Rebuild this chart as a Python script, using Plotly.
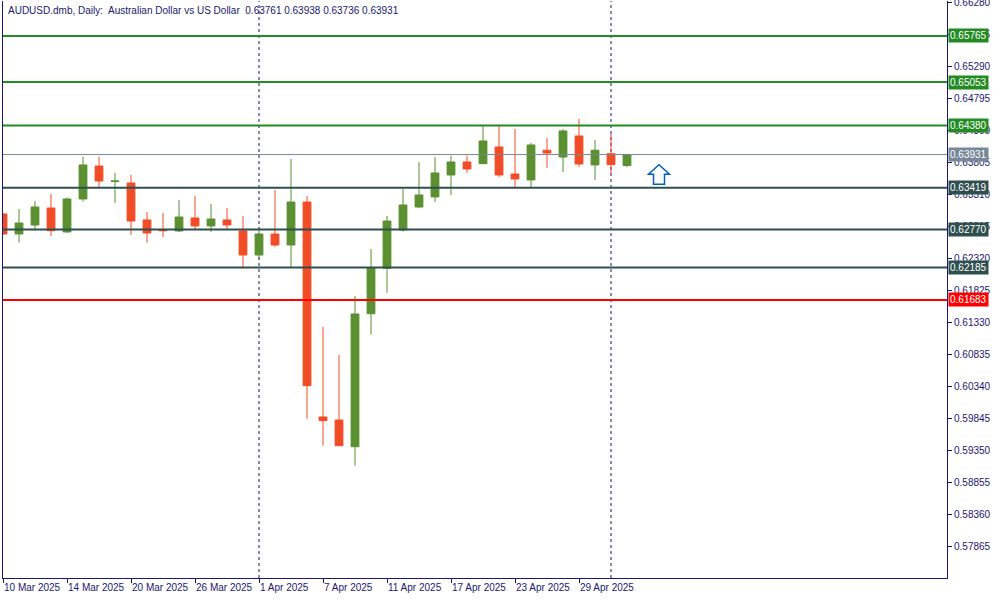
import plotly.graph_objects as go

# ---------------- data ----------------
DATES = ["2025-03-10", "2025-03-11", "2025-03-12", "2025-03-13", "2025-03-14",
         "2025-03-17", "2025-03-18", "2025-03-19", "2025-03-20", "2025-03-21",
         "2025-03-24", "2025-03-25", "2025-03-26", "2025-03-27", "2025-03-28",
         "2025-03-31", "2025-04-01", "2025-04-02", "2025-04-03", "2025-04-04",
         "2025-04-07", "2025-04-08", "2025-04-09", "2025-04-10", "2025-04-11",
         "2025-04-14", "2025-04-15", "2025-04-16", "2025-04-17", "2025-04-18",
         "2025-04-21", "2025-04-22", "2025-04-23", "2025-04-24", "2025-04-25",
         "2025-04-28", "2025-04-29", "2025-04-30", "2025-05-01", "2025-05-02"]

OPEN = [0.63012, 0.62702, 0.62841, 0.63104, 0.62733, 0.63244, 0.63754, 0.63514, 0.63491, 0.62919,
        0.62769, 0.62749, 0.62950, 0.62826, 0.62919, 0.62749, 0.62377, 0.62702, 0.62532, 0.63197,
        0.59872, 0.59825, 0.59412, 0.61469, 0.62172, 0.62764, 0.63120, 0.63275, 0.63615, 0.63816,
        0.63790, 0.64048, 0.63630, 0.63538, 0.63998, 0.63893, 0.64218, 0.63770, 0.63944, 0.63761]
HIGH = [0.63027, 0.63089, 0.63213, 0.63321, 0.63264, 0.63898, 0.63898, 0.63646, 0.63615, 0.63043,
        0.63027, 0.63228, 0.63290, 0.63166, 0.63104, 0.62981, 0.62811, 0.63383, 0.63862, 0.63290,
        0.61264, 0.60831, 0.61743, 0.62470, 0.62981, 0.63398, 0.63816, 0.63893, 0.63913, 0.63913,
        0.64378, 0.64378, 0.64326, 0.64110, 0.64187, 0.64326, 0.64481, 0.64156, 0.64249, 0.63938]
LOW = [0.62687, 0.62568, 0.62753, 0.62671, 0.62725, 0.63202, 0.63418, 0.63182, 0.62687, 0.62568,
       0.62656, 0.62733, 0.62764, 0.62733, 0.62780, 0.62166, 0.62300, 0.62501, 0.62192, 0.59845,
       0.59428, 0.59428, 0.59118, 0.61145, 0.61794, 0.62738, 0.63104, 0.63197, 0.63306, 0.63650,
       0.63785, 0.63584, 0.63418, 0.63414, 0.63723, 0.63661, 0.63739, 0.63538, 0.63630, 0.63736]
CLOSE = [0.62702, 0.62872, 0.63120, 0.62753, 0.63244, 0.63770, 0.63522, 0.63522, 0.62903, 0.62718,
         0.62753, 0.62965, 0.62826, 0.62934, 0.62841, 0.62377, 0.62702, 0.62532, 0.63197, 0.60356,
         0.59815, 0.59428, 0.61465, 0.62176, 0.62903, 0.63151, 0.63306, 0.63646, 0.63816, 0.63708,
         0.64141, 0.63615, 0.63553, 0.64079, 0.63955, 0.64296, 0.63785, 0.63998, 0.63775, 0.63931]

X_TICK_INDEX = [0, 4, 8, 12, 16, 20, 24, 28, 32, 36]
X_TICK_LABELS = ["10 Mar 2025", "14 Mar 2025", "20 Mar 2025", "26 Mar 2025", "1 Apr 2025",
                 "7 Apr 2025", "11 Apr 2025", "17 Apr 2025", "23 Apr 2025", "29 Apr 2025"]

Y_TICKS = [0.66280, 0.65785, 0.65290, 0.64795, 0.64300, 0.63805, 0.63310, 0.62815, 0.62320,
           0.61825, 0.61330, 0.60835, 0.60340, 0.59845, 0.59350, 0.58855, 0.58360, 0.57865]

LEVEL_PRICES = [0.65765, 0.65053, 0.64380, 0.63419, 0.62770, 0.62185, 0.61683]
BID_PRICE = 0.63931
PERIOD_SEPARATORS = [16, 38]       # 1 Apr, 1 May
ARROW_INDEX = 41
ARROW_PRICE = 0.63471

TITLE = "AUDUSD.dmb, Daily:  Australian Dollar vs US Dollar  0.63761 0.63938 0.63736 0.63931"

# ---------------- styles ----------------
NAVY = "#191970"
BULL = "#5B9030"
BEAR = "#F24C26"
LEVEL_COLORS = ["#228B22", "#228B22", "#228B22", "#2F4F4F", "#2F4F4F", "#2F4F4F", "#FF0000"]
BID_COLOR = "#778899"
FONT = "Liberation Sans"
Y_RANGE = [0.57381, 0.66306]
X_RANGE = [0, 59]

idx = list(range(len(DATES)))

fig = go.Figure()
fig.add_trace(go.Candlestick(
    x=idx, open=OPEN, high=HIGH, low=LOW, close=CLOSE,
    text=DATES, hoverinfo="text+y",
    increasing=dict(line=dict(color=BULL, width=1), fillcolor=BULL),
    decreasing=dict(line=dict(color=BEAR, width=1), fillcolor=BEAR),
    whiskerwidth=0,
    showlegend=False,
))

shapes = []
for xi in PERIOD_SEPARATORS:
    shapes.append(dict(type="line", xref="x", yref="paper", x0=xi, x1=xi, y0=0, y1=1,
                       line=dict(color=NAVY, width=1, dash="3px,3px"), layer="below"))

annotations = []
for p, c in zip(LEVEL_PRICES, LEVEL_COLORS):
    shapes.append(dict(type="line", xref="paper", yref="y", x0=0, x1=1, y0=p, y1=p,
                       line=dict(color=c, width=2), layer="above"))
    annotations.append(dict(xref="paper", yref="y", x=1, y=p, xanchor="left", yanchor="middle",
                            xshift=1, text=f"{p:.5f}", showarrow=False,
                            bgcolor=c, borderpad=1,
                            font=dict(family=FONT, size=10, color="white")))

shapes.append(dict(type="line", xref="paper", yref="y", x0=0, x1=1, y0=BID_PRICE, y1=BID_PRICE,
                   line=dict(color=BID_COLOR, width=1), layer="above"))
annotations.append(dict(xref="paper", yref="y", x=1, y=BID_PRICE, xanchor="left", yanchor="middle",
                        xshift=1, text=f"{BID_PRICE:.5f}", showarrow=False,
                        bgcolor=BID_COLOR, borderpad=1,
                        font=dict(family=FONT, size=10, color="white")))

# up arrow object (pixel-sized path anchored at data point)
shapes.append(dict(type="path", xref="x", yref="y", xsizemode="pixel", ysizemode="pixel",
                   xanchor=ARROW_INDEX, yanchor=ARROW_PRICE,
                   path="M -5.5 0 L 5.5 0 L 5.5 10 L 10.5 10 L 0 19.5 L -10.5 10 L -5.5 10 Z",
                   line=dict(color="#0060C0", width=1.5), fillcolor="white", layer="above"))

annotations.append(dict(xref="paper", yref="paper", x=0, y=1, xanchor="left", yanchor="top",
                        xshift=3, yshift=-2, text=TITLE, showarrow=False,
                        font=dict(family=FONT, size=10, color=NAVY)))

fig.update_layout(
    width=1000, height=600,
    margin=dict(l=3, r=53, t=1, b=22, autoexpand=False),
    paper_bgcolor="white", plot_bgcolor="white",
    shapes=shapes, annotations=annotations,
    font=dict(family=FONT, size=10, color=NAVY),
    xaxis=dict(range=X_RANGE, tickmode="array", tickvals=X_TICK_INDEX, ticktext=X_TICK_LABELS,
               showgrid=False, zeroline=False, showline=True, linecolor=NAVY, linewidth=1,
               ticks="outside", ticklen=4, tickcolor=NAVY, ticklabelposition="outside right",
               tickangle=0, automargin=False, ticklabeloverflow="allow",
               rangeslider=dict(visible=False),
               tickfont=dict(family=FONT, size=10, color=NAVY)),
    yaxis=dict(range=Y_RANGE, side="right", tickmode="array", tickvals=Y_TICKS,
               ticktext=[f"{v:.5f}" for v in Y_TICKS], automargin=False,
               ticklabeloverflow="allow",
               showgrid=False, zeroline=False, showline=True, linecolor=NAVY, linewidth=1,
               mirror=True, ticks="outside", ticklen=4, tickcolor=NAVY,
               tickfont=dict(family=FONT, size=10, color=NAVY)),
)

fig.write_html("out.html",
               config={"displayModeBar": False},
               post_script="document.body.style.margin='0';document.body.style.padding='0';")
